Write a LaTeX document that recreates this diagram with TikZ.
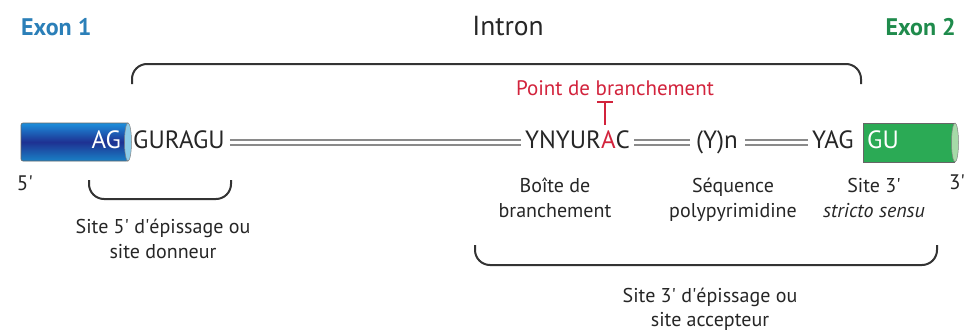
\documentclass[tikz,border=0pt]{standalone}
\usepackage{fontspec}
\setmainfont{PT Sans}
\usetikzlibrary{calc}
\newcommand{\ap}{\textquotesingle}
\definecolor{exblue}{HTML}{2B7FB8}
\definecolor{exgreen}{HTML}{1F8B4C}
\definecolor{bpred}{HTML}{D2233C}
\definecolor{brk}{HTML}{333333}
\definecolor{dline}{HTML}{8A8A8A}
\definecolor{cylblue}{HTML}{1C8FDC}
\definecolor{cyldark}{HTML}{1E3192}
\definecolor{cylcap}{HTML}{8CCBE8}
\definecolor{cylgreen}{HTML}{2BAA55}
\definecolor{cylgcap}{HTML}{A6DAA8}
\begin{document}
\begin{tikzpicture}[x=1pt,y=-1pt,
  seq/.style={font=\fontsize{25}{28}\selectfont, inner sep=0pt, anchor=base west, text=black!85},
  lbl/.style={font=\fontsize{20}{25}\selectfont, inner sep=0pt, align=center, text=black!85, anchor=base},
  title/.style={font=\fontsize{27.5}{30}\selectfont, inner sep=0pt, anchor=base},
  brace/.style={draw=brk, line width=2pt, rounded corners=15pt},
  dbl/.style={draw=dline, line width=1.6pt, double=white, double distance=3pt}]
\useasboundingbox (0,0) rectangle (969,332);
% titles
\node[title, anchor=base west, text=exblue, font=\fontsize{24}{30}\selectfont\bfseries] (ex1) at (21,35) {Exon 1};
\node[title, text=black!85] (intron) at (508,35) {Intron};
\node[title, anchor=base east, text=exgreen, font=\fontsize{24}{30}\selectfont\bfseries] (ex2) at (956,35) {Exon 2};
% top brace
\draw[brace] (132,84) -- (132,64) -- (861,64) -- (861,84);
% exon 1 cylinder
\shade[top color=cylblue, bottom color=cylblue!90!black, middle color=cyldark, rounded corners=2pt]
  (21,123) rectangle (128,161);
\draw[draw=black!60, line width=0.6pt, rounded corners=2pt] (128,123) -- (21,123) -- (21,161) -- (128,161);
\filldraw[fill=cylcap, draw=black!50, line width=0.5pt] (128,142) ellipse [x radius=3.5, y radius=19];
% exon 2 cylinder
\fill[cylgreen] (863,123) rectangle (955,162);
\draw[draw=black!60, line width=0.6pt] (955,123) -- (863,123) -- (863,162) -- (955,162);
\filldraw[fill=cylgcap, draw=black!50, line width=0.5pt] (955,142.5) ellipse [x radius=3.5, y radius=19.5];
% sequence
\node[seq, anchor=base east, text=white] (ag) at (121,148) {AG};
\node[seq] (gur) at (133,148) {GURAGU};
\node[seq] (ynyu) at (525,148) {YNYUR\textcolor{bpred}{A}C};
\node[seq] (yn) at (696,148) {(Y)n};
\node[seq] (yag) at (812,148) {YAG};
\node[seq, text=white] (gu) at (867,148) {GU};
\coordinate (lev) at (0,142.5);
\draw[dbl] ($(gur.east |- lev)+(5,0)$) -- ($(ynyu.west |- lev)+(-4,0)$);
\draw[dbl] ($(ynyu.east |- lev)+(4,0)$) -- ($(yn.west |- lev)+(-6,0)$);
\draw[dbl] ($(yn.east |- lev)+(7,0)$) -- ($(yag.west |- lev)+(-4,0)$);
% branch point
\node[lbl, text=bpred, font=\fontsize{21}{25}\selectfont] (bp) at (615,95) {Point de branchement};
\coordinate (ttop) at (605,102);
\draw[bpred, line width=2.8pt] (ttop) -- ++(0,23);
\draw[bpred, line width=2.4pt] ($(ttop)+(-8,0)$) -- ($(ttop)+(8,0)$);
% ends
\node[lbl, font=\fontsize{21}{25}\selectfont] (p5) at (25,190) {5\ap};
\node[lbl, font=\fontsize{21}{25}\selectfont] (p3) at (957,189) {3\ap};
% lower labels
\node[lbl] (boite) at (555,217) {Boîte de\\branchement};
\node[lbl] (seqpp) at (733,217) {Séquence\\polypyrimidine};
\node[lbl] (site3) at (874,217) {Site 3\ap\\\textit{stricto sensu}};
\draw[brace] (89,180) -- (89,199) -- (231,199) -- (231,180);
\node[lbl] (site5l) at (163,258) {Site 5\ap{} d\ap épissage ou\\site donneur};
\draw[brace] (475,245) -- (475,265) -- (937,265) -- (937,245);
\node[lbl, font=\fontsize{20}{24}\selectfont] (site3l) at (710,326) {Site 3\ap{} d\ap épissage ou\\site accepteur};
\end{tikzpicture}
\end{document}
